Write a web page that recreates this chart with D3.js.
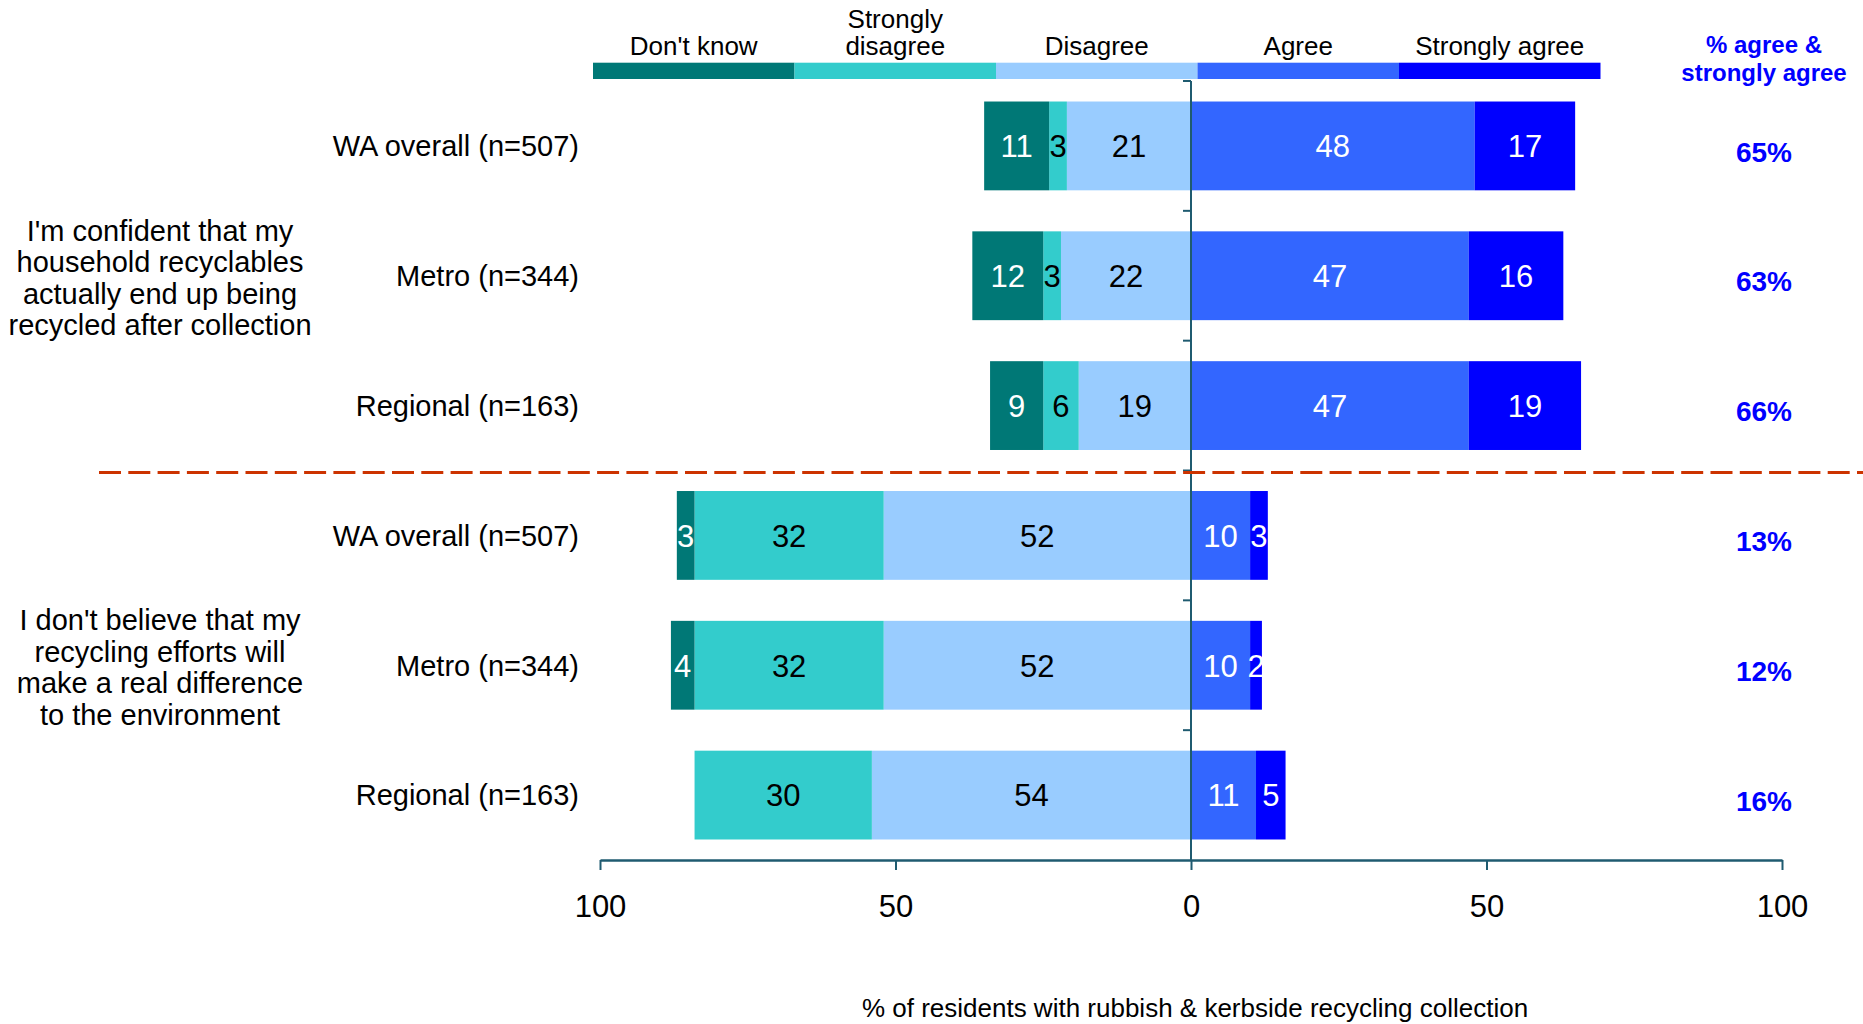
<!DOCTYPE html>
<html>
<head>
<meta charset="utf-8">
<script src="https://cdn.jsdelivr.net/npm/d3@7"></script>
<style>
  html, body { margin: 0; padding: 0; background: #fff; }
  svg { display: block; font-family: "Liberation Sans", Arial, sans-serif; }
</style>
</head>
<body>
<svg id="chart" width="1863" height="1024"></svg>
<script>
// ---- data ----
const rowLabels = ["WA overall (n=507)", "Metro (n=344)", "Regional (n=163)",
                   "WA overall (n=507)", "Metro (n=344)", "Regional (n=163)"];
const rowIds = ["q1-wa", "q1-metro", "q1-regional", "q2-wa", "q2-metro", "q2-regional"];
const groupLabels = [
  ["I'm confident that my", "household recyclables", "actually end up being", "recycled after collection"],
  ["I don't believe that my", "recycling efforts will", "make a real difference", "to the environment"]
];
const seriesNames = ["Don't know", "Strongly disagree", "Disagree", "Agree", "Strongly agree"];
const dontKnow         = [11, 12, 9, 3, 4, 0];
const stronglyDisagree = [3, 3, 6, 32, 32, 30];
const disagree         = [21, 22, 19, 52, 52, 54];
const agree            = [48, 47, 47, 10, 10, 11];
const stronglyAgree    = [17, 16, 19, 3, 2, 5];
const agreeTotal       = ["65%", "63%", "66%", "13%", "12%", "16%"];
const xTicks = [-100, -50, 0, 50, 100];

// ---- styles ----
const colors = ["#007876", "#33CCCC", "#99CCFF", "#3366FF", "#0000FF"];
const labelColors = ["#fff", "#000", "#000", "#fff", "#fff"];
const axisColor = "#1f5b70";
const font = '"Liberation Sans", Arial, sans-serif';

const svg = d3.select("#chart");

const x = d3.scaleLinear().domain([-100, 100]).range([600, 1782]);
const y = d3.scaleBand().domain(rowIds).range([81, 860]).paddingInner(0.316).paddingOuter(0.158);

// build segments: negative side from centre outward: Disagree, Strongly disagree, Don't know
const seriesVals = [dontKnow, stronglyDisagree, disagree, agree, stronglyAgree];
const segs = [];
rowIds.forEach((id, i) => {
  let neg = 0;
  [2, 1, 0].forEach(s => {
    const v = seriesVals[s][i];
    segs.push({ row: id, s, v, x0: -(neg + v), x1: -neg });
    neg += v;
  });
  let pos = 0;
  [3, 4].forEach(s => {
    const v = seriesVals[s][i];
    segs.push({ row: id, s, v, x0: pos, x1: pos + v });
    pos += v;
  });
});

// bars
svg.append("g").selectAll("rect").data(segs.filter(d => d.v > 0)).join("rect")
  .attr("x", d => x(d.x0))
  .attr("width", d => x(d.x1) - x(d.x0))
  .attr("y", d => y(d.row))
  .attr("height", y.bandwidth())
  .attr("fill", d => colors[d.s]);

// bar labels
svg.append("g").selectAll("text").data(segs.filter(d => d.v > 0)).join("text")
  .attr("x", d => (x(d.x0) + x(d.x1)) / 2)
  .attr("y", d => y(d.row) + y.bandwidth() / 2 + 11.3)
  .attr("text-anchor", "middle")
  .attr("font-size", 31)
  .attr("fill", d => labelColors[d.s])
  .text(d => d.v);

// centre (category) axis line
svg.append("line")
  .attr("x1", x(0)).attr("x2", x(0))
  .attr("y1", y.range()[0]).attr("y2", y.range()[1])
  .attr("stroke", axisColor).attr("stroke-width", 2);

// category tick marks at band boundaries
const boundaries = rowIds.map(id => y(id) - (y.step() - y.bandwidth()) / 2);
svg.append("g").selectAll("line").data(boundaries).join("line")
  .attr("x1", x(0) - 8).attr("x2", x(0))
  .attr("y1", d => d).attr("y2", d => d)
  .attr("stroke", axisColor).attr("stroke-width", 2);

// x axis
const xAxis = svg.append("g")
  .attr("transform", `translate(0,${y.range()[1]})`)
  .call(d3.axisBottom(x).tickValues(xTicks).tickSize(10).tickSizeOuter(0)
        .tickFormat(d => Math.abs(d)));
xAxis.select(".domain").attr("stroke", axisColor).attr("stroke-width", 2.5);
xAxis.selectAll(".tick line").attr("stroke", axisColor).attr("stroke-width", 2);
xAxis.selectAll(".tick text")
  .attr("font-family", font).attr("font-size", 31).attr("fill", "#000")
  .attr("dy", null).attr("y", 56.7);

// axis title
svg.append("text")
  .attr("x", 1195).attr("y", 1017)
  .attr("text-anchor", "middle").attr("font-size", 26).attr("fill", "#000")
  .text("% of residents with rubbish & kerbside recycling collection");

// row labels
svg.append("g").selectAll("text").data(rowIds).join("text")
  .attr("x", 579)
  .attr("y", d => y(d) + y.bandwidth() / 2 + 10.4)
  .attr("text-anchor", "end").attr("font-size", 29).attr("fill", "#000")
  .text((d, i) => rowLabels[i]);

// group labels (centred on middle row of each group)
groupLabels.forEach((lines, g) => {
  const mid = rowIds[g * 3 + 1];
  const cy = y(mid) + y.bandwidth() / 2;
  svg.append("g").selectAll("text").data(lines).join("text")
    .attr("x", 160)
    .attr("y", (d, i) => cy + 12 + (i - 1.5) * 31.5)
    .attr("text-anchor", "middle").attr("font-size", 29).attr("fill", "#000")
    .text(d => d);
});

// group separator
const sepY = (y(rowIds[2]) + y.bandwidth() + y(rowIds[3])) / 2 + 2;
svg.append("line")
  .attr("x1", 99).attr("x2", 1863)
  .attr("y1", sepY).attr("y2", sepY)
  .attr("stroke", "#cc3300").attr("stroke-width", 3)
  .attr("stroke-dasharray", "22,7.3");

// % agree column
svg.append("g").selectAll("text").data(rowIds).join("text")
  .attr("x", 1764)
  .attr("y", d => y(d) + y.bandwidth() / 2 + 15.6)
  .attr("text-anchor", "middle").attr("font-size", 28).attr("font-weight", "bold")
  .attr("fill", "#0000ff")
  .text((d, i) => agreeTotal[i]);

svg.append("g").selectAll("text").data(["% agree &", "strongly agree"]).join("text")
  .attr("x", 1764)
  .attr("y", (d, i) => 53.3 + i * 27.7)
  .attr("text-anchor", "middle").attr("font-size", 24).attr("font-weight", "bold")
  .attr("fill", "#0000ff")
  .text(d => d);

// legend
const lx = d3.scaleBand().domain(seriesNames).range([593, 1600.5]);
const legend = svg.append("g");
legend.selectAll("rect").data(seriesNames).join("rect")
  .attr("x", d => lx(d)).attr("width", lx.bandwidth())
  .attr("y", 62.7).attr("height", 16.3)
  .attr("fill", (d, i) => colors[i]);
const legendLines = [["Don't know"], ["Strongly", "disagree"], ["Disagree"], ["Agree"], ["Strongly agree"]];
seriesNames.forEach((name, i) => {
  const lines = legendLines[i];
  legend.append("g").selectAll("text").data(lines).join("text")
    .attr("x", lx(name) + lx.bandwidth() / 2)
    .attr("y", (d, j) => 55 - (lines.length - 1 - j) * 27)
    .attr("text-anchor", "middle").attr("font-size", 26).attr("fill", "#000")
    .text(d => d);
});
</script>
</body>
</html>
